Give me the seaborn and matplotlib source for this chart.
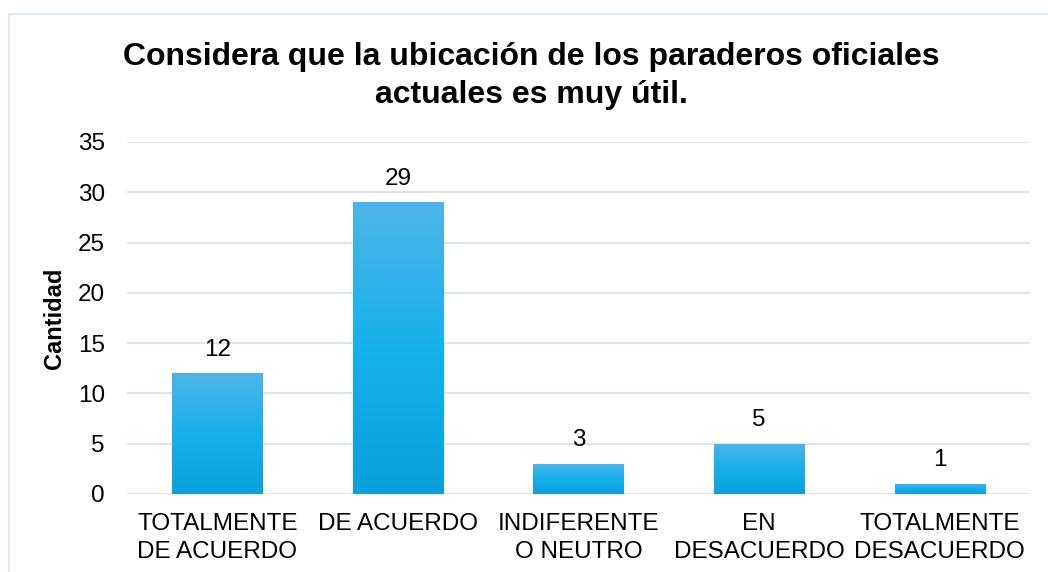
import numpy as np
import pandas as pd
import matplotlib
matplotlib.use("Agg")
import matplotlib.pyplot as plt
import seaborn as sns
from matplotlib.colors import LinearSegmentedColormap
from matplotlib.patches import Rectangle

categories = ["TOTALMENTE\nDE ACUERDO", "DE ACUERDO", "INDIFERENTE\nO NEUTRO", "EN\nDESACUERDO", "TOTALMENTE\nDESACUERDO"]
values = [12, 29, 3, 5, 1]
title = "Considera que la ubicación de los paraderos oficiales\nactuales es muy útil."
ylabel = "Cantidad"
yticks = [0, 5, 10, 15, 20, 25, 30, 35]

sns.set_theme(style="white")
plt.rcParams['font.family'] = ['Liberation Sans', 'DejaVu Sans']
plt.rcParams['text.color'] = 'black'
plt.rcParams['axes.labelcolor'] = 'black'

fig = plt.figure(figsize=(10.48, 5.72), dpi=100)
ax = fig.add_axes([127/1048, 1-494/572, 903/1048, 352/572])

df = pd.DataFrame({"cat": categories, "val": values})
sns.barplot(data=df, x="cat", y="val", color="#16B0EC", width=0.5, ax=ax, saturation=1)

ax.set_ylim(0, 35)
ax.set_xlim(-0.5, 4.5)
ax.set_yticks(yticks)
ax.grid(axis="y", color="#DCE4EC", linewidth=1.5)
ax.set_axisbelow(True)
for s in ax.spines.values():
    s.set_visible(False)
ax.tick_params(axis="both", length=0, labelsize=17.5, colors="black")
ax.tick_params(axis="y", pad=16)
ax.tick_params(axis="x", pad=14)
for t in ax.get_xticklabels():
    t.set_linespacing(1.3)
ax.set_xlabel("")
ax.set_ylabel(ylabel, fontsize=17, fontweight="bold")
ax.yaxis.set_label_coords((66 - 127) / 903, 0.5)

# gradient fill
cmap = LinearSegmentedColormap.from_list("g", ["#0AA0DC", "#16B0EC", "#4DB5E8"])
grad = np.linspace(0, 1, 256).reshape(-1, 1)
for p in list(ax.patches):
    x0, y0 = p.get_x(), p.get_y()
    w, h = p.get_width(), p.get_height()
    im = ax.imshow(grad, extent=[x0, x0 + w, y0, y0 + h], origin="lower",
                   cmap=cmap, aspect="auto", zorder=p.get_zorder())
    im.set_clip_path(p)
    p.set_edgecolor("none")

ax.set_xlim(-0.5, 4.5)
ax.set_ylim(0, 35)

for c in ax.containers:
    ax.bar_label(c, labels=[str(v) for v in values], padding=9, fontsize=17.5, color="black")

fig.text(0.507, 1 - 76/572, title, ha="center", va="center", fontsize=23,
         fontweight="bold", linespacing=1.36, color="black")

fig.patches.append(Rectangle((9/1048, -0.1), 1.2, 1 - 14/572 + 0.1, transform=fig.transFigure,
                             fill=False, edgecolor="#DCE6F0", linewidth=1.2))

fig.savefig("out.png", dpi=100)
